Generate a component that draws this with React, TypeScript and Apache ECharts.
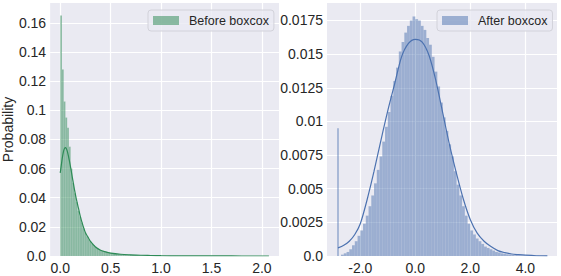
import { useEffect, useRef } from 'react';
import * as echarts from 'echarts';

const FONT = '"Liberation Sans", Arial, Helvetica, sans-serif';
const TEXT = '#262626';
const BG = '#EAEAF2';

// ---------- Left panel: before boxcox ----------
const beforeName = 'Before boxcox';
const beforeBinStart = 0;
const beforeBinWidth = 0.0172;
const beforeHist = [
  0.165, 0.128, 0.106, 0.095, 0.088, 0.075, 0.060, 0.050, 0.043, 0.037,
  0.031, 0.027, 0.023, 0.019, 0.016, 0.0135, 0.0115, 0.0098, 0.0085, 0.0073,
  0.0063, 0.0055, 0.0048, 0.0042, 0.0037, 0.0033, 0.0029, 0.0026, 0.0023, 0.0021,
  0.0019, 0.0017, 0.0015, 0.0014, 0.0013, 0.0012, 0.0011, 0.0010, 0.0009, 0.00085,
  0.0008, 0.0007, 0.00065, 0.0006, 0.00055, 0.0005, 0.00045, 0.0004, 0.00037, 0.00034,
  0.0003, 0.00028, 0.00026, 0.00023, 0.0002, 0.00018, 0.00016, 0.00015, 0.00013, 0.00012,
  0.0001, 0.00008, 0.00007, 0.00006, 0.00005, 0.00004, 0.00004, 0.00003, 0.00003, 0.00002,
];
const beforeKdeX = [0, 0.01, 0.02, 0.03, 0.04, 0.05, 0.06, 0.07, 0.08, 0.1, 0.12, 0.14, 0.16, 0.18, 0.2, 0.225, 0.25, 0.275, 0.3, 0.35, 0.4, 0.45, 0.5, 0.6, 0.7, 0.8, 0.9, 1.0, 1.2, 1.4, 1.6, 1.8, 2.07];
const beforeKdeY = [0.057, 0.062, 0.067, 0.071, 0.0735, 0.0743, 0.0738, 0.072, 0.069, 0.062, 0.054, 0.046, 0.039, 0.033, 0.027, 0.021, 0.016, 0.013, 0.010, 0.0062, 0.0040, 0.0028, 0.0020, 0.0012, 0.0008, 0.0005, 0.00035, 0.0002, 0.0001, 0.00005, 0.00003, 0.00001, 0];
const beforeXTicks = [0, 0.5, 1, 1.5, 2];
const beforeXLabels = ['0.0', '0.5', '1.0', '1.5', '2.0'];
const beforeYTicks = [0, 0.02, 0.04, 0.06, 0.08, 0.1, 0.12, 0.14, 0.16];
const beforeYLabels = ['0.0', '0.02', '0.04', '0.06', '0.08', '0.1', '0.12', '0.14', '0.16'];
const beforeXRange = [-0.1, 2.17];
const beforeYRange = [0, 0.1736];

// ---------- Right panel: after boxcox ----------
const afterName = 'After boxcox';
const afterBinStart = -2.7;
const afterBinWidth = 0.1;
const afterHist = [
  0.0001, 0.0002, 0.0003, 0.0005, 0.0008, 0.0011, 0.0015, 0.0019, 0.0024, 0.0030,
  0.0037, 0.0045, 0.0054, 0.0064, 0.0074, 0.0085, 0.0096, 0.0107, 0.0119, 0.0130,
  0.0140, 0.0152, 0.0159, 0.0166, 0.0171, 0.0175, 0.0178, 0.0176, 0.0175, 0.0171,
  0.0168, 0.0162, 0.0157, 0.0148, 0.0137, 0.0126, 0.0114, 0.0103, 0.0093, 0.0083,
  0.0074, 0.0063, 0.0053, 0.0045, 0.0037, 0.0030, 0.0024, 0.0019, 0.0016, 0.0013,
  0.0011, 0.0009, 0.0007, 0.0006, 0.0005, 0.0004, 0.0003, 0.00026, 0.0002, 0.00016,
  0.00013, 0.0001, 0.00008, 0.00006, 0.00005, 0.00004, 0.00003, 0.00002, 0.00002, 0.00001,
  0.00001, 0.00001, 0, 0, 0.00001,
];
const afterSpikeX = [-2.81];
const afterSpikeY = [0.0095];
const afterKdeX = [-2.81, -2.6, -2.4, -2.2, -2.0, -1.75, -1.5, -1.25, -1.0, -0.75, -0.5, -0.25, 0, 0.25, 0.5, 0.75, 1.0, 1.25, 1.5, 1.75, 2.0, 2.25, 2.5, 2.75, 3.0, 3.25, 3.5, 3.75, 4.0, 4.4, 4.8];
const afterKdeY = [0.0006, 0.0008, 0.0011, 0.0016, 0.0024, 0.0042, 0.0063, 0.0086, 0.0108, 0.0128, 0.0148, 0.0158, 0.0161, 0.0159, 0.0149, 0.0130, 0.0106, 0.0082, 0.0061, 0.0042, 0.0027, 0.0017, 0.0011, 0.0007, 0.0004, 0.00025, 0.00015, 0.0001, 0.00006, 0.00002, 0.00001];
const afterXTicks = [-2, 0, 2, 4];
const afterXLabels = ['-2.0', '0.0', '2.0', '4.0'];
const afterYTicks = [0, 0.0025, 0.005, 0.0075, 0.01, 0.0125, 0.015, 0.0175];
const afterYLabels = ['0.0', '0.0025', '0.005', '0.0075', '0.01', '0.0125', '0.015', '0.0175'];
const afterXRange = [-3.21, 5.15];
const afterYRange = [0, 0.0188];

const greenLine = '#2E8B57';
const greenFill = 'rgba(46,139,87,0.52)';
const blueLine = '#4C72B0';
const blueFill = 'rgba(76,114,176,0.5)';

const lookup = (ticks: number[], labels: string[]) => (v: number) => {
  const i = ticks.findIndex((t) => Math.abs(t - v) < 1e-9);
  return i >= 0 ? labels[i] : '';
};

const histData = (start: number, width: number, vals: number[]) =>
  vals.map((v, i) => [start + i * width, start + (i + 1) * width, v]);

const histRender = (fill: string, stroke: string, lw: number) => (_p: any, api: any) => {
  const a = api.coord([api.value(0), api.value(2)]);
  const b = api.coord([api.value(1), 0]);
  return {
    type: 'rect',
    shape: { x: a[0], y: a[1], width: b[0] - a[0], height: b[1] - a[1] },
    style: { fill, stroke, lineWidth: lw },
  };
};

const xAxisCfg = (gridIndex: number, range: number[], ticks: number[], labels: string[]) => ({
  type: 'value',
  gridIndex,
  min: range[0],
  max: range[1],
  axisLine: { show: false },
  axisTick: { show: false, customValues: ticks },
  axisLabel: {
    customValues: ticks,
    formatter: lookup(ticks, labels),
    fontSize: 14,
    color: TEXT,
    fontFamily: FONT,
    margin: 5,
  },
  splitLine: { show: true, lineStyle: { color: '#ffffff', width: 1.2 } },
});

const yAxisCfg = (gridIndex: number, range: number[], ticks: number[], labels: string[], name?: string) => ({
  type: 'value',
  gridIndex,
  min: range[0],
  max: range[1],
  name: name || '',
  nameLocation: 'middle',
  nameGap: 34,
  nameTextStyle: { fontSize: 14, color: TEXT, fontFamily: FONT },
  axisLine: { show: false },
  axisTick: { show: false, customValues: ticks },
  axisLabel: {
    customValues: ticks,
    formatter: lookup(ticks, labels),
    fontSize: 14,
    color: TEXT,
    fontFamily: FONT,
    margin: 4,
  },
  splitLine: { show: true, lineStyle: { color: '#ffffff', width: 1.2 } },
});

const legendCfg = (name: string, color: string, left: number) => ({
  data: [{ name, icon: 'rect', itemStyle: { color } }],
  left,
  top: 10,
  orient: 'horizontal',
  itemWidth: 26,
  itemHeight: 9,
  padding: [3, 5, 3, 5],
  backgroundColor: 'rgba(234,234,242,0.8)',
  borderColor: '#d2d2da',
  borderWidth: 1,
  borderRadius: 3,
  selectedMode: false,
  textStyle: { fontSize: 12.5, color: TEXT, fontFamily: FONT, lineHeight: 15, padding: [0, 0, 0, 5] },
});

export default function App() {
  const ref = useRef<HTMLDivElement>(null);
  useEffect(() => {
    const chart = echarts.init(ref.current!, undefined, { renderer: 'svg' });
    const option: any = {
      animation: false,
      backgroundColor: '#ffffff',
      grid: [
        { left: 49, top: 3, width: 230, height: 253, show: true, backgroundColor: BG, borderWidth: 0 },
        { left: 327, top: 3, width: 230, height: 253, show: true, backgroundColor: BG, borderWidth: 0 },
      ],
      xAxis: [
        xAxisCfg(0, beforeXRange, beforeXTicks, beforeXLabels),
        xAxisCfg(1, afterXRange, afterXTicks, afterXLabels),
      ],
      yAxis: [
        yAxisCfg(0, beforeYRange, beforeYTicks, beforeYLabels, 'Probability'),
        yAxisCfg(1, afterYRange, afterYTicks, afterYLabels),
      ],
      legend: [legendCfg(beforeName, greenFill, 148), legendCfg(afterName, blueFill, 437)],
      series: [
        {
          name: beforeName,
          type: 'custom',
          xAxisIndex: 0,
          yAxisIndex: 0,
          itemStyle: { color: greenFill },
          encode: { x: [0, 1], y: 2 },
          renderItem: histRender(greenFill, 'rgba(255,255,255,0.18)', 0.3),
          data: histData(beforeBinStart, beforeBinWidth, beforeHist),
          clip: true,
          z: 2,
        },
        {
          name: 'kde-before',
          type: 'line',
          xAxisIndex: 0,
          yAxisIndex: 0,
          showSymbol: false,
          smooth: 0.3,
          lineStyle: { color: greenLine, width: 1.2 },
          data: beforeKdeX.map((x, i) => [x, beforeKdeY[i]]),
          z: 3,
        },
        {
          name: afterName,
          type: 'custom',
          xAxisIndex: 1,
          yAxisIndex: 1,
          itemStyle: { color: blueFill },
          encode: { x: [0, 1], y: 2 },
          renderItem: histRender(blueFill, 'rgba(255,255,255,0.15)', 0.3),
          data: histData(afterBinStart, afterBinWidth, afterHist),
          clip: true,
          z: 2,
        },
        {
          name: 'spike-after',
          type: 'custom',
          xAxisIndex: 1,
          yAxisIndex: 1,
          encode: { x: [0, 1], y: 2 },
          renderItem: histRender('rgba(76,114,176,0.75)', 'none', 0),
          data: afterSpikeX.map((x, i) => [x - 0.02, x + 0.02, afterSpikeY[i]]),
          clip: true,
          z: 2,
        },
        {
          name: 'kde-after',
          type: 'line',
          xAxisIndex: 1,
          yAxisIndex: 1,
          showSymbol: false,
          smooth: 0.3,
          lineStyle: { color: blueLine, width: 1.2 },
          data: afterKdeX.map((x, i) => [x, afterKdeY[i]]),
          z: 3,
        },
      ],
    };
    chart.setOption(option);
    return () => chart.dispose();
  }, []);
  return (
    <div
      ref={ref}
      style={{ position: 'fixed', left: 0, top: 0, width: 561, height: 276, background: '#fff' }}
    />
  );
}
